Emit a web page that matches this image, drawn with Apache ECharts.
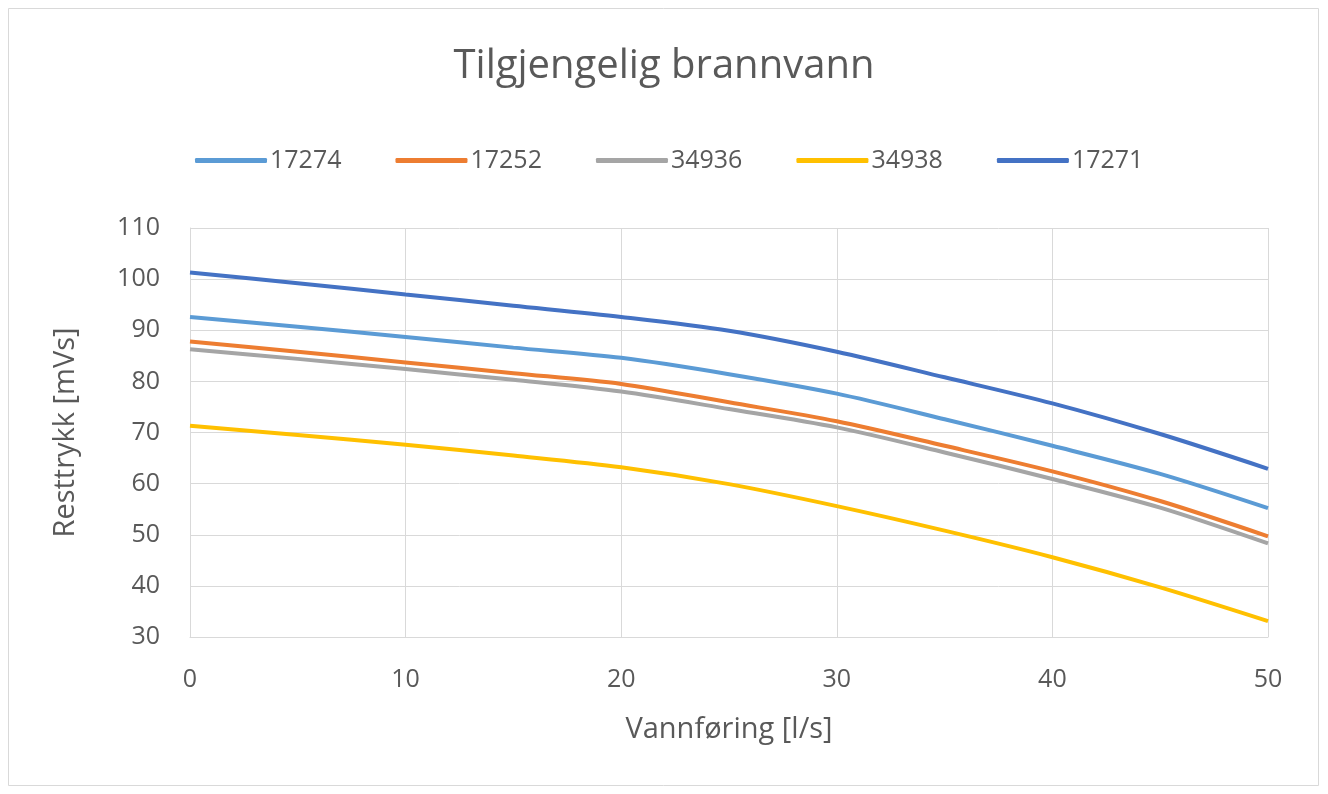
<!DOCTYPE html>
<html>
<head>
<meta charset="utf-8">
<script src="https://cdn.jsdelivr.net/npm/echarts@6/dist/echarts.min.js"></script>
<style>
  html, body { margin: 0; padding: 0; background: #fff; }
  #chart { width: 1328px; height: 794px; }
</style>
</head>
<body>
<div id="chart"></div>
<script>
// flow (l/s) sample points
const flow = [0, 5, 10, 15, 20, 25, 30, 35, 40, 45, 50];

const names = ['17274', '17252', '34936', '34938', '17271'];
const colors = ['#5B9BD5', '#ED7D31', '#A5A5A5', '#FFC000', '#4472C4'];

// residual pressure (mVs)
const p17274 = [92.6, 90.7, 88.7, 86.6, 84.6, 81.4, 77.6, 72.6, 67.4, 61.9, 55.2];
const p17252 = [87.8, 85.8, 83.7, 81.6, 79.5, 75.9, 72.2, 67.4, 62.4, 56.6, 49.7];
const p34936 = [86.3, 84.4, 82.4, 80.3, 78.0, 74.6, 71.0, 66.1, 60.9, 55.3, 48.3];
const p34938 = [71.3, 69.5, 67.6, 65.5, 63.2, 59.9, 55.6, 50.8, 45.6, 39.7, 33.1];
const p17271 = [101.3, 99.2, 97.0, 94.8, 92.6, 89.9, 85.8, 80.8, 75.7, 69.7, 62.9];

const values = [p17274, p17252, p34936, p34938, p17271];

const font = 'Open Sans';
const txt = '#595959';

const chart = echarts.init(document.getElementById('chart'));
chart.setOption({
  animation: false,
  backgroundColor: '#fff',
  textStyle: { fontFamily: font },
  title: {
    text: 'Tilgjengelig brannvann',
    left: 'center',
    top: 42,
    textStyle: { fontFamily: font, fontSize: 40, fontWeight: 'normal', color: txt }
  },
  legend: {
    top: 143,
    left: 190,
    itemWidth: 72,
    itemHeight: 5,
    itemGap: 54,
    icon: 'roundRect',
    textStyle: { fontFamily: font, fontSize: 25, color: txt, padding: [0, 0, 0, -2] },
    data: names
  },
  graphic: [{
    type: 'rect',
    shape: { x: 8.5, y: 8.5, width: 1310, height: 777 },
    style: { fill: 'none', stroke: '#d9d9d9', lineWidth: 1 },
    silent: true
  }],
  grid: { left: 190, right: 60, top: 228, bottom: 157 },
  xAxis: {
    type: 'value',
    min: 0, max: 50, interval: 10,
    name: 'Vannføring [l/s]',
    nameLocation: 'middle',
    nameGap: 78,
    nameTextStyle: { fontFamily: font, fontSize: 29, color: txt },
    axisLine: { show: true, lineStyle: { color: '#d9d9d9', width: 1 } },
    axisTick: { show: false },
    axisLabel: { margin: 30, fontSize: 25, color: txt, fontFamily: font },
    splitLine: { show: true, lineStyle: { color: '#d9d9d9', width: 1 } }
  },
  yAxis: {
    type: 'value',
    min: 30, max: 110, interval: 10,
    name: 'Resttrykk [mVs]',
    nameLocation: 'middle',
    nameGap: 110,
    nameRotate: 90,
    nameTextStyle: { fontFamily: font, fontSize: 29, color: txt },
    axisLine: { show: true, lineStyle: { color: '#d9d9d9', width: 1 } },
    axisTick: { show: false },
    axisLabel: { margin: 30, fontSize: 25, color: txt, fontFamily: font },
    splitLine: { show: true, lineStyle: { color: '#d9d9d9', width: 1 } }
  },
  series: names.map((n, i) => ({
    name: n,
    type: 'line',
    smooth: 0.3,
    showSymbol: false,
    symbol: 'none',
    color: colors[i],
    lineStyle: { width: 4, color: colors[i] },
    data: flow.map((x, k) => [x, values[i][k]])
  }))
});
</script>
</body>
</html>
